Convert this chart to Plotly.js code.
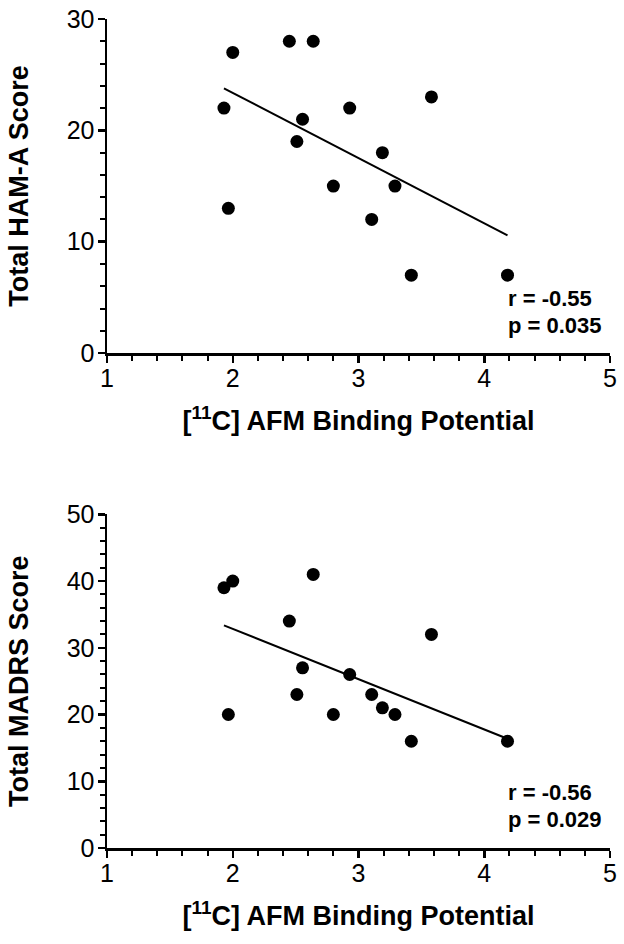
<!DOCTYPE html>
<html>
<head>
<meta charset="utf-8">
<script src="https://cdn.plot.ly/plotly-3.0.1.min.js"></script>
<style>html,body{margin:0;padding:0;background:#fff;}#chart{width:624px;height:944px;}</style>
</head>
<body>
<div id="chart"></div>
<script>
// [11C] AFM binding potential for each subject
const bindingPotential = [1.93, 2.00, 1.965, 2.45, 2.64, 2.51, 2.555, 2.80, 2.93, 3.105, 3.19, 3.29, 3.42, 3.58, 4.185];
// Total HAM-A score
const hamA = [22, 27, 13, 28, 28, 19, 21, 15, 22, 12, 18, 15, 7, 23, 7];
// Total MADRS score
const madrs = [39, 40, 20, 34, 41, 23, 27, 20, 26, 23, 21, 20, 16, 32, 16];
const statsHamA = ["r = -0.55", "p = 0.035"];
const statsMadrs = ["r = -0.56", "p = 0.029"];
const xTickVals = [1, 2, 3, 4, 5];

function fit(xs, ys) {
  const n = xs.length;
  const mx = xs.reduce((a, b) => a + b, 0) / n;
  const my = ys.reduce((a, b) => a + b, 0) / n;
  let sxy = 0, sxx = 0;
  for (let i = 0; i < n; i++) { sxy += (xs[i] - mx) * (ys[i] - my); sxx += (xs[i] - mx) ** 2; }
  const b = sxy / sxx, a = my - b * mx;
  const x0 = Math.min(...xs), x1 = Math.max(...xs);
  return { x: [x0, x1], y: [a + b * x0, a + b * x1] };
}
const f1 = fit(bindingPotential, hamA);
const f2 = fit(bindingPotential, madrs);

const FONT = '"Liberation Sans", Arial, sans-serif';

const marker = { size: 13, color: '#000' };
const traces = [
  { x: bindingPotential, y: hamA, mode: 'markers', type: 'scatter', marker, xaxis: 'x', yaxis: 'y', hoverinfo: 'skip' },
  { x: f1.x, y: f1.y, mode: 'lines', type: 'scatter', line: { color: '#000', width: 2 }, xaxis: 'x', yaxis: 'y' },
  { x: bindingPotential, y: madrs, mode: 'markers', type: 'scatter', marker, xaxis: 'x2', yaxis: 'y2', hoverinfo: 'skip' },
  { x: f2.x, y: f2.y, mode: 'lines', type: 'scatter', line: { color: '#000', width: 2 }, xaxis: 'x2', yaxis: 'y2' }
];

function xaxis(anchor) {
  return {
    anchor, domain: [0, 1], range: [1, 5], tickvals: xTickVals, ticks: 'outside', ticklen: 7, tickwidth: 2.5, tickcolor: '#000',
    showline: true, linewidth: 2.5, linecolor: '#000', showgrid: false, zeroline: false, fixedrange: true,
    tickfont: { family: FONT, size: 25, color: '#000' }, ticklabelstandoff: -6,
    minor: { dtick: 0.2, ticks: 'outside', ticklen: 5, tickwidth: 2, tickcolor: '#000', showgrid: false },
    title: { text: '<b>[<sup>11</sup>C] AFM Binding Potential</b>', font: { family: FONT, size: 27, color: '#000' }, standoff: 21 },
    automargin: false
  };
}
function yaxis(anchor, domain, range, title) {
  return {
    anchor, domain, range, dtick: 10, ticks: 'outside', ticklen: 7, tickwidth: 2.5, tickcolor: '#000',
    showline: true, linewidth: 2.5, linecolor: '#000', showgrid: false, zeroline: false, fixedrange: true,
    tickfont: { family: FONT, size: 25, color: '#000' }, ticklabelstandoff: -2,
    minor: { dtick: 2, ticks: 'outside', ticklen: 5, tickwidth: 2, tickcolor: '#000', showgrid: false },
    title: { text: '<b>' + title + '</b>', font: { family: FONT, size: 27, color: '#000' }, standoff: 30 },
    automargin: false
  };
}

const annFont = { family: FONT, size: 22, color: '#000' };
const layout = {
  width: 624, height: 944, showlegend: false, paper_bgcolor: '#fff', plot_bgcolor: '#fff',
  margin: { l: 107, r: 14, t: 19, b: 96 },
  xaxis: xaxis('y'),
  yaxis: yaxis('x', [0.597, 1], [0, 30], 'Total HAM-A Score'),
  xaxis2: xaxis('y2'),
  yaxis2: yaxis('x2', [0, 0.4025], [0, 50], 'Total MADRS Score'),
  annotations: [
    { xref: 'x', yref: 'y', x: 4.17, y: 4.9, text: '<b>' + statsHamA[0] + '</b>', showarrow: false, xanchor: 'left', font: annFont },
    { xref: 'x', yref: 'y', x: 4.17, y: 2.5, text: '<b>' + statsHamA[1] + '</b>', showarrow: false, xanchor: 'left', font: annFont },
    { xref: 'x2', yref: 'y2', x: 4.17, y: 8.3, text: '<b>' + statsMadrs[0] + '</b>', showarrow: false, xanchor: 'left', font: annFont },
    { xref: 'x2', yref: 'y2', x: 4.17, y: 4.2, text: '<b>' + statsMadrs[1] + '</b>', showarrow: false, xanchor: 'left', font: annFont }
  ]
};
Plotly.newPlot('chart', traces, layout, { displayModeBar: false, staticPlot: true });
</script>
</body>
</html>
